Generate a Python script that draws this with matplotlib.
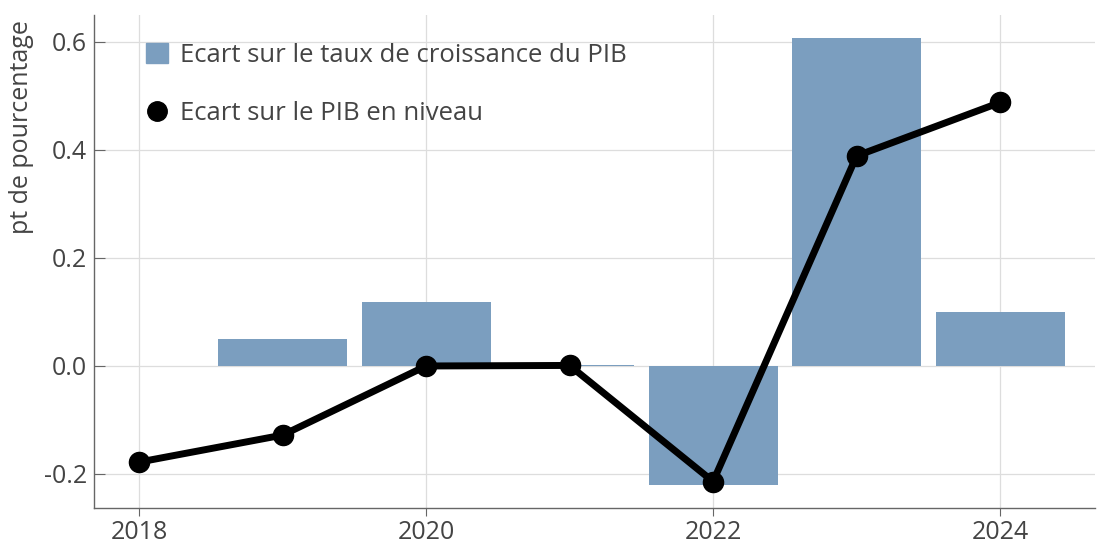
import matplotlib.pyplot as plt
from matplotlib.lines import Line2D
from matplotlib.patches import Patch

plt.rcParams['font.family'] = ['Open Sans', 'DejaVu Sans']

years = [2018, 2019, 2020, 2021, 2022, 2023, 2024]
bar_years = [2019, 2020, 2021, 2022, 2023, 2024]
ecart_taux = [0.05, 0.118, 0.002, -0.22, 0.607, 0.10]
ecart_niveau = [-0.178, -0.128, 0.0, 0.001, -0.214, 0.389, 0.488]

bar_col = '#7b9ebf'
txt_col = '#444444'

fig = plt.figure(figsize=(10.97, 5.47), dpi=100)
ax = fig.add_axes([0.0857, 0.0713, 0.9123, 0.9013])

ax.bar(bar_years, ecart_taux, width=0.9, color=bar_col, zorder=2)
ax.plot(years, ecart_niveau, color='black', lw=5, marker='o', ms=14.5, zorder=3)

ax.set_xlim(2017.686, 2024.66)
ax.set_ylim(-0.263, 0.65)
ax.set_xticks([2018, 2020, 2022, 2024])
ax.set_yticks([-0.2, 0.0, 0.2, 0.4, 0.6])
ax.set_yticklabels(['-0.2', '0.0', '0.2', '0.4', '0.6'])
ax.grid(True, color='#dddddd', lw=0.9, zorder=0)
ax.set_axisbelow(True)

for s in ['top', 'right']:
    ax.spines[s].set_visible(False)
for s in ['left', 'bottom']:
    ax.spines[s].set_color('#666666')
    ax.spines[s].set_linewidth(1.0)

ax.tick_params(axis='y', direction='in', length=8, colors='#666666', labelcolor=txt_col, labelsize=18, pad=5)
ax.tick_params(axis='x', direction='out', length=6, colors='#666666', labelcolor=txt_col, labelsize=18, pad=3)
ax.set_ylabel('pt de pourcentage', fontsize=18, color=txt_col)
ax.yaxis.set_label_coords(-0.06, 0.773)

handles = [
    Patch(color=bar_col, label='Ecart sur le taux de croissance du PIB'),
    Line2D([], [], color='black', marker='o', ls='none', ms=14, label='Ecart sur le PIB en niveau'),
]
leg = ax.legend(handles=handles, loc='upper left', bbox_to_anchor=(0.029, 0.991),
                frameon=False, fontsize=18.5, labelspacing=1.3, handlelength=0.85,
                handleheight=0.85, handletextpad=0.45)
for t in leg.get_texts():
    t.set_color(txt_col)

fig.savefig('out.png', dpi=100)
